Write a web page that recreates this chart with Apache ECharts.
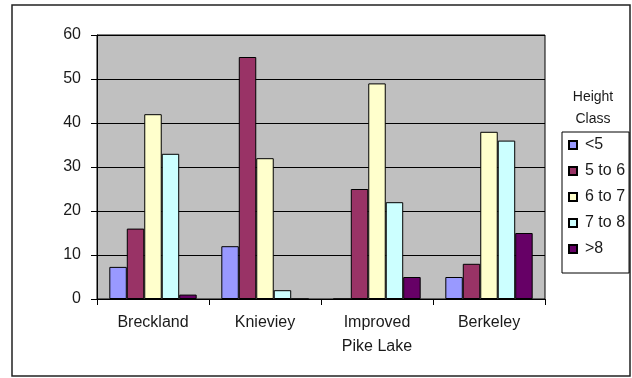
<!DOCTYPE html>
<html>
<head>
<meta charset="utf-8">
<script src="https://cdn.jsdelivr.net/npm/echarts@6/dist/echarts.min.js"></script>
<style>
  html, body { margin: 0; padding: 0; background: #fff; }
  #chart { width: 632px; height: 378px; }
</style>
</head>
<body>
<div id="chart"></div>
<script>
// Sites along the x axis
const sites = ['Breckland', 'Knieviey', 'Improved\nPike Lake', 'Berkeley'];

// Counts per height class at each site
const under5  = [7.3, 12, 0, 5];
const from5to6 = [16, 55, 25, 8];
const from6to7 = [42, 32, 49, 38];
const from7to8 = [33, 2, 22, 36];
const over8   = [1, 0, 5, 15];

const classNames = ['<5', '5 to 6', '6 to 7', '7 to 8', '>8'];
const classColors = ['#9999FF', '#993366', '#FFFFCC', '#CCFFFF', '#660066'];
const classValues = [under5, from5to6, from6to7, from7to8, over8];

const yTicks = { min: 0, max: 60, interval: 10 };

const font = '"Liberation Sans", Arial, sans-serif';
const ink = '#1a1a1a';

const chart = echarts.init(document.getElementById('chart'), null, { renderer: 'canvas' });

chart.setOption({
  animation: false,
  backgroundColor: '#fff',
  textStyle: { fontFamily: font, color: ink },
  grid: {
    left: 97, top: 35, right: 87, bottom: 79,
    show: true,
    backgroundColor: '#C0C0C0',
    borderColor: '#000',
    borderWidth: 1
  },
  xAxis: {
    type: 'category',
    data: sites,
    axisLine: { lineStyle: { color: '#000', width: 1 } },
    axisTick: { show: true, length: 6, lineStyle: { color: '#000' } },
    axisLabel: { color: ink, fontSize: 16, fontFamily: font, margin: 12, lineHeight: 24 }
  },
  yAxis: {
    type: 'value',
    min: yTicks.min, max: yTicks.max, interval: yTicks.interval,
    axisLine: { show: true, lineStyle: { color: '#000', width: 1 } },
    axisTick: { show: true, length: 6, lineStyle: { color: '#000' } },
    axisLabel: { color: ink, fontSize: 16, fontFamily: font, margin: 16 },
    splitLine: { show: true, lineStyle: { color: '#000', width: 1 } }
  },
  legend: {
    orient: 'vertical',
    left: 562, top: 132,
    padding: [5, 4, 16, 6],
    itemGap: 10,
    itemWidth: 8, itemHeight: 8,
    icon: 'rect',
    borderColor: '#000',
    borderWidth: 1,
    backgroundColor: '#fff',
    textStyle: { color: ink, fontSize: 16, fontFamily: font, padding: [0, 0, 0, 3] },
    data: classNames
  },
  graphic: [
    {
      type: 'rect',
      shape: { x: 12, y: 5, width: 618, height: 371 },
      style: { fill: 'none', stroke: '#222', lineWidth: 1.5 },
      silent: true, z: -1
    },
    {
      type: 'text', x: 593, y: 97,
      style: { text: 'Height', font: '14px ' + font, fill: ink, textAlign: 'center', textVerticalAlign: 'middle' }
    },
    {
      type: 'text', x: 593, y: 119,
      style: { text: 'Class', font: '14px ' + font, fill: ink, textAlign: 'center', textVerticalAlign: 'middle' }
    }
  ],
  series: classNames.map((name, i) => ({
    name: name,
    type: 'bar',
    data: classValues[i],
    barGap: '0%',
    barCategoryGap: '22%',
    itemStyle: { color: classColors[i], borderColor: '#000', borderWidth: 1 }
  }))
});
</script>
</body>
</html>
